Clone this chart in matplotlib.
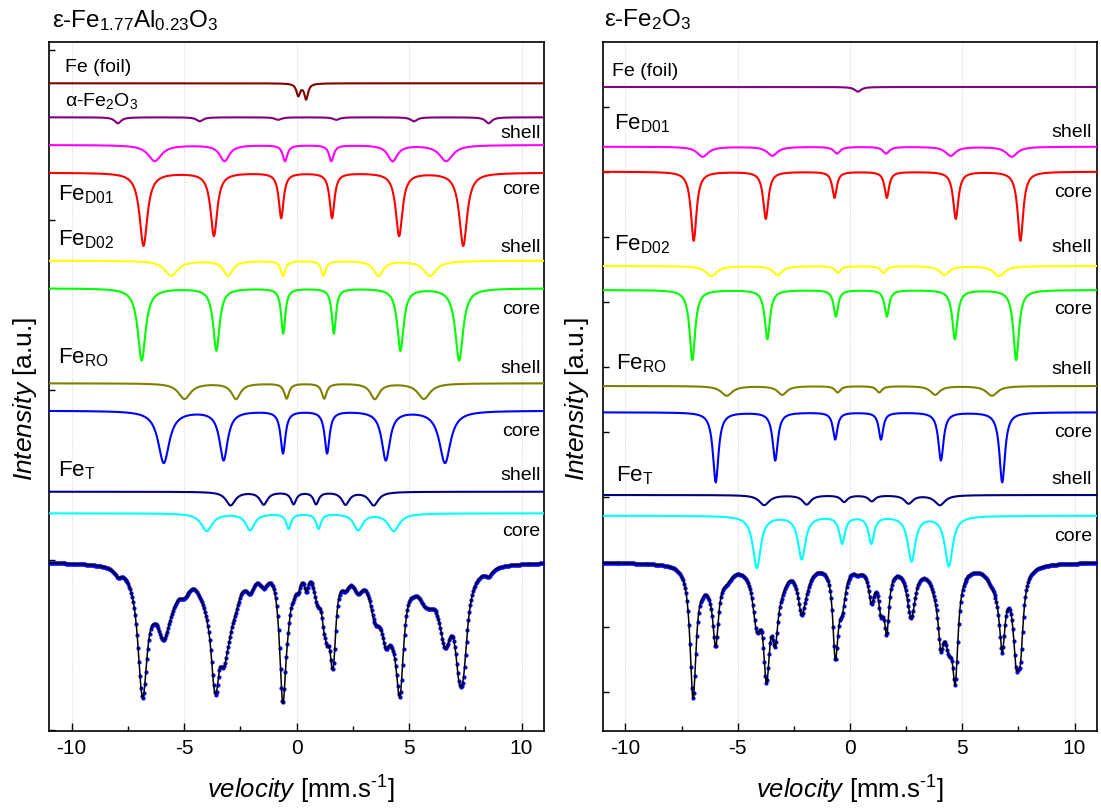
import numpy as np
import matplotlib
matplotlib.use("Agg")
import matplotlib.pyplot as plt

plt.rcParams['font.family'] = ['Liberation Sans', 'DejaVu Sans']
plt.rcParams['mathtext.fontset'] = 'custom'
plt.rcParams['mathtext.rm'] = 'Liberation Sans'
plt.rcParams['mathtext.it'] = 'Liberation Sans:italic'
plt.rcParams['mathtext.bf'] = 'Liberation Sans:bold'

# ---------------- ε-Fe1.77Al0.23O3 : subspectra (line positions mm/s, depths, FWHM) ----------------
al_baselines = [647.4, 613.4, 585.7, 558.0, 470.0, 442.4, 347.4, 320.0, 239.0, 217.4]
al_positions = [
    [0.08, 0.43],
    [-7.94, -4.30, -0.82, 1.77, 5.22, 8.54],
    [-6.30, -3.20, -0.51, 1.55, 4.27, 6.65],
    [-6.80, -3.67, -0.68, 1.58, 4.56, 7.41],
    [-5.57, -3.04, -0.60, 1.20, 3.64, 5.93],
    [-6.88, -3.56, -0.59, 1.66, 4.62, 7.23],
    [-4.98, -2.69, -0.44, 1.23, 3.48, 5.66],
    [-5.90, -3.24, -0.60, 1.36, 3.97, 6.60],
    [-2.93, -1.46, -0.13, 0.87, 2.18, 3.43],
    [-3.99, -2.06, -0.35, 0.98, 2.74, 4.32],
]
al_depths = [
    [12.0, 15.5],
    [6.0, 4.0, 2.5, 2.5, 4.0, 6.0],
    [16.0, 16.0, 16.0, 16.0, 16.0, 16.0],
    [73.0, 63.0, 45.0, 45.0, 63.0, 73.0],
    [15.0, 15.0, 15.0, 15.0, 15.0, 15.0],
    [72.0, 62.0, 45.0, 45.0, 62.0, 72.0],
    [15.5, 15.5, 15.0, 15.0, 15.5, 15.5],
    [52.0, 49.0, 42.0, 42.0, 49.0, 52.0],
    [13.5, 12.5, 12.0, 12.0, 12.5, 13.5],
    [17.5, 16.5, 15.0, 15.0, 16.5, 17.5],
]
al_fwhm = [
    [0.20, 0.20],
    [0.35, 0.35, 0.35, 0.35, 0.35, 0.35],
    [0.72, 0.52, 0.25, 0.25, 0.52, 0.72],
    [0.42, 0.36, 0.26, 0.26, 0.36, 0.42],
    [0.70, 0.50, 0.24, 0.24, 0.50, 0.70],
    [0.42, 0.34, 0.22, 0.22, 0.34, 0.42],
    [0.66, 0.48, 0.26, 0.26, 0.48, 0.66],
    [0.60, 0.44, 0.26, 0.26, 0.44, 0.60],
    [0.50, 0.40, 0.28, 0.28, 0.40, 0.50],
    [0.60, 0.48, 0.26, 0.26, 0.48, 0.60],
]
al_data_baseline = 169.0
al_fit_gain = 1.15        # absorber gain of the summed subspectra
al_fit_saturation = 330.0  # thickness (saturation) depth of the transmission curve

# ---------------- ε-Fe2O3 : subspectra ----------------
fe_baselines = [643.7, 584.0, 559.0, 464.7, 440.7, 344.7, 318.4, 235.7, 215.0]
fe_positions = [
    [0.35],
    [-6.56, -3.46, -0.58, 1.61, 4.48, 7.20],
    [-6.96, -3.75, -0.69, 1.64, 4.71, 7.59],
    [-6.18, -3.23, -0.54, 1.49, 4.21, 6.64],
    [-7.02, -3.68, -0.63, 1.64, 4.67, 7.40],
    [-5.49, -3.02, -0.55, 1.30, 3.79, 6.32],
    [-5.98, -3.33, -0.66, 1.38, 4.05, 6.78],
    [-3.82, -1.93, -0.26, 0.97, 2.61, 4.00],
    [-4.15, -2.15, -0.35, 0.95, 2.74, 4.40],
]
fe_depths = [
    [4.7],
    [10.0, 9.0, 6.7, 6.7, 9.0, 10.0],
    [69.0, 47.0, 26.0, 26.0, 47.0, 69.0],
    [10.0, 9.0, 6.7, 6.7, 9.0, 10.0],
    [70.0, 49.0, 26.5, 26.5, 49.0, 70.0],
    [9.7, 8.7, 6.3, 6.3, 8.7, 9.7],
    [70.0, 48.0, 27.0, 27.0, 48.0, 70.0],
    [10.0, 9.3, 6.7, 6.0, 8.3, 10.0],
    [52.0, 43.0, 27.0, 27.0, 45.0, 50.0],
]
fe_fwhm = [
    [0.35],
    [0.60, 0.55, 0.35, 0.35, 0.55, 0.60],
    [0.30, 0.28, 0.24, 0.24, 0.28, 0.30],
    [0.60, 0.50, 0.30, 0.30, 0.50, 0.60],
    [0.30, 0.28, 0.24, 0.24, 0.28, 0.30],
    [0.60, 0.50, 0.30, 0.30, 0.50, 0.60],
    [0.30, 0.28, 0.24, 0.24, 0.28, 0.30],
    [0.55, 0.45, 0.35, 0.35, 0.45, 0.55],
    [0.42, 0.40, 0.30, 0.30, 0.40, 0.42],
]
fe_data_baseline = 168.4
fe_fit_gain = 1.0
fe_fit_saturation = 2000.0

# line colours of the subspectra
al_colors = ['#800000', '#800080', '#FF00FF', '#FF0000', '#FFFF00', '#00FF00',
             '#808000', '#0000FF', '#000080', '#00FFFF']
fe_colors = ['#800080', '#FF00FF', '#FF0000', '#FFFF00', '#00FF00',
             '#808000', '#0000FF', '#000080', '#00FFFF']

VEL_LIM = (-11.0, 11.0)
Y_LIM = (0.0, 688.4)


def absorption(v, pos, depth, fwhm):
    out = np.zeros_like(v)
    for p, d, w in zip(pos, depth, fwhm):
        out += d / (1.0 + ((v - p) / (w / 2.0)) ** 2)
    return out


def transmission(total, gain, sat):
    return sat * (1.0 - np.exp(-gain * total / sat))


def draw_panel(ax, baselines, positions, depths, fwhm, colors,
               data_base, gain, sat, yticks):
    v = np.linspace(VEL_LIM[0], VEL_LIM[1], 2200)
    channels = np.linspace(VEL_LIM[0], VEL_LIM[1], 512)
    total = np.zeros_like(v)
    total_ch = np.zeros_like(channels)
    for b, p, d, w, c in zip(baselines, positions, depths, fwhm, colors):
        a = absorption(v, p, d, w)
        total += a
        total_ch += absorption(channels, p, d, w)
        ax.plot(v, b - a, color=c, lw=1.5, zorder=3)
    ax.plot(channels, data_base - transmission(total_ch, gain, sat), 'o',
            color='#0000FF', ms=3.0, mec='none', zorder=4)
    ax.plot(v, data_base - transmission(total, gain, sat), color='black',
            lw=1.1, zorder=5)

    ax.set_xlim(*VEL_LIM)
    ax.set_ylim(*Y_LIM)
    ax.set_xticks([-10, -5, 0, 5, 10])
    ax.set_xticklabels(['-10', '-5', '0', '5', '10'])
    ax.set_xticks([-7.5, -2.5, 2.5, 7.5], minor=True)
    ax.set_yticks(yticks)
    ax.set_yticklabels([])
    ax.tick_params(axis='x', which='major', direction='in', length=5.5, width=1.0,
                   labelsize=15, pad=6)
    ax.tick_params(axis='x', which='minor', direction='in', length=3.5, width=1.0)
    ax.tick_params(axis='y', which='major', direction='in', length=4, width=1.0)
    ax.grid(axis='x', which='major', color='#cfcfcf', lw=0.7, ls=':')
    ax.set_axisbelow(True)
    for s in ax.spines.values():
        s.set_linewidth(1.2)


W, H = 1101, 811
fig = plt.figure(figsize=(W / 100, H / 100), dpi=100)
ax_al = fig.add_axes([49 / W, 1 - 730.7 / H, 495 / W, 688.4 / H])
ax_fe = fig.add_axes([603 / W, 1 - 730.7 / H, 494 / W, 688.4 / H])

draw_panel(ax_al, al_baselines, al_positions, al_depths, al_fwhm, al_colors,
           al_data_baseline, al_fit_gain, al_fit_saturation,
           [0.7, 170.7, 340.7, 510.7, 680.7])
draw_panel(ax_fe, fe_baselines, fe_positions, fe_depths, fe_fwhm, fe_colors,
           fe_data_baseline, fe_fit_gain, fe_fit_saturation,
           [38.4 + 65 * k for k in range(10)])

# component labels
left_big = [(-10.58, 530.0, r"Fe$_\mathregular{D01}$"),
            (-10.58, 485.7, r"Fe$_\mathregular{D02}$"),
            (-10.58, 367.4, r"Fe$_\mathregular{RO}$"),
            (-10.58, 254.0, r"Fe$_\mathregular{T}$")]
for x, y, t in left_big:
    ax_al.text(x, y, t, fontsize=16, ha='left', va='baseline', zorder=6)
ax_al.text(-10.3, 659.0, "Fe (foil)", fontsize=14, ha='left', va='baseline')
ax_al.text(-10.3, 624.7, r"α-Fe$_\mathregular{2}$O$_\mathregular{3}$", fontsize=14,
           ha='left', va='baseline')
for y, t in [(593.0, 'shell'), (536.7, 'core'), (479.0, 'shell'), (416.4, 'core'),
             (357.4, 'shell'), (295.0, 'core'), (250.7, 'shell'), (195.0, 'core')]:
    ax_al.text(10.85, y, t, fontsize=14, ha='right', va='baseline')

right_big = [(-10.5, 601.4, r"Fe$_\mathregular{D01}$"),
             (-10.5, 480.7, r"Fe$_\mathregular{D02}$"),
             (-10.4, 361.7, r"Fe$_\mathregular{RO}$"),
             (-10.4, 249.0, r"Fe$_\mathregular{T}$")]
for x, y, t in right_big:
    ax_fe.text(x, y, t, fontsize=16, ha='left', va='baseline', zorder=6)
ax_fe.text(-10.6, 655.0, "Fe (foil)", fontsize=14, ha='left', va='baseline')
for y, t in [(594.0, 'shell'), (534.0, 'core'), (478.4, 'shell'), (416.4, 'core'),
             (356.4, 'shell'), (294.0, 'core'), (246.7, 'shell'), (190.0, 'core')]:
    ax_fe.text(10.78, y, t, fontsize=14, ha='right', va='baseline')

# panel titles
fig.text(52 / W, 1 - 27 / H, r"ε-Fe$_\mathregular{1.77}$Al$_\mathregular{0.23}$O$_\mathregular{3}$",
         fontsize=17.5, ha='left', va='baseline')
fig.text(604 / W, 1 - 26 / H, r"ε-Fe$_\mathregular{2}$O$_\mathregular{3}$",
         fontsize=17.5, ha='left', va='baseline')

# axis titles
for xc in (24.6, 577.0):
    fig.text(xc / W, 1 - 399 / H, r"$\mathit{Intensity}$ [a.u.]", rotation=90,
             fontsize=19, ha='center', va='center')
for xc in (301.0, 850.0):
    fig.text(xc / W, 1 - 790 / H, r"$\mathit{velocity}$ [mm.s$^\text{-1}$]",
             fontsize=18.5, ha='center', va='center')

fig.savefig("out.png", dpi=100)
